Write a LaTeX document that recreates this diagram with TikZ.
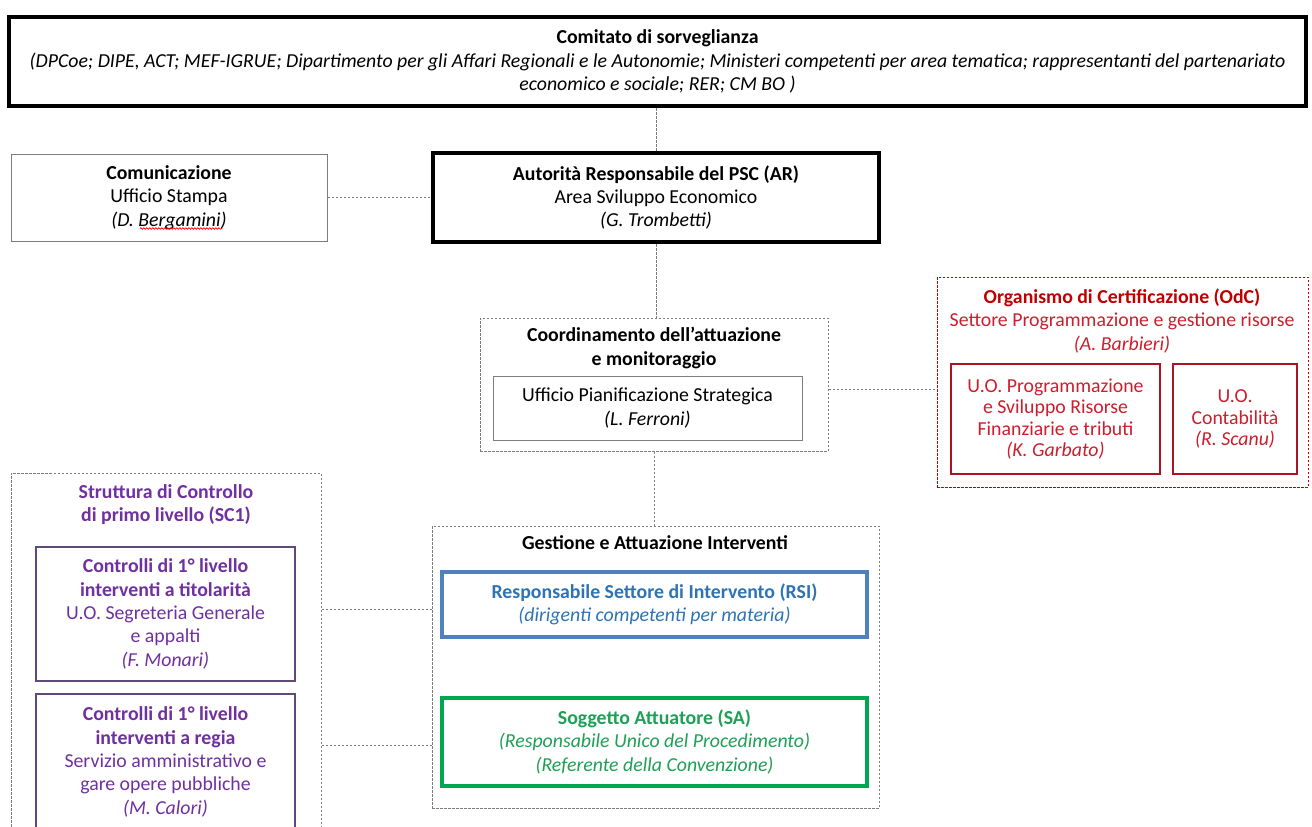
\documentclass[tikz,border=0pt]{standalone}
\usepackage{fontspec}
\setmainfont{Carlito}
\usetikzlibrary{calc,decorations.pathmorphing}
\definecolor{gline}{RGB}{125,125,125}
\definecolor{odcred}{RGB}{192,0,0}
\definecolor{odcline}{RGB}{170,20,35}
\definecolor{odctext}{RGB}{205,30,45}
\definecolor{purtext}{RGB}{112,48,160}
\definecolor{purline}{RGB}{96,73,122}
\definecolor{rsiline}{RGB}{79,129,189}
\definecolor{rsitext}{RGB}{46,116,181}
\definecolor{saline}{RGB}{0,166,80}
\definecolor{satext}{RGB}{30,160,85}
\tikzset{
  base/.style={inner sep=0pt, align=center, font=\fontsize{19.8}{23.3}\selectfont},
  thickbox/.style={base, draw=black, line width=4.5pt},
  plainbox/.style={base, draw=gline, line width=1pt},
  dashbox/.style={base, draw=gline, line width=1pt, dash pattern=on 2.5pt off 1.5pt},
  reddash/.style={base, draw=odcred, line width=1pt, dash pattern=on 2.5pt off 1.5pt},
  redbox/.style={base, draw=odcline, line width=1.3pt, text=odctext, font=\fontsize{19.8}{21.5}\selectfont},
  purbox/.style={base, draw=purline, line width=1.3pt, text=purtext},
  rsibox/.style={base, draw=rsiline, line width=4pt},
  sabox/.style={base, draw=saline, line width=4pt},
  title/.style={base},
  conn/.style={draw=gline, line width=1pt, dash pattern=on 2.5pt off 1.5pt},
  spell/.style={draw=red, line width=0.7pt, decorate, decoration={snake, segment length=3pt, amplitude=0.8pt}}
}
\begin{document}
\begin{tikzpicture}[x=1pt,y=-1pt]
\useasboundingbox (0,0) rectangle (1312,827);
\fill[white] (0,0) rectangle (1312,827);
\clip (0,0) rectangle (1312,827);

% top
\node[thickbox, minimum width=1297pt, minimum height=89pt] (comitato) at (657.5,61.5)
 {\textbf{Comitato di sorveglianza}\\
  \textit{(DPCoe; DIPE, ACT; MEF-IGRUE; Dipartimento per gli Affari Regionali e le Autonomie; Ministeri competenti per area tematica; rappresentanti del partenariato}\\
  \textit{economico e sociale; RER; CM BO )}};

\node[plainbox, minimum width=316pt, minimum height=87pt] (comun) at (169,197.5)
 {\textbf{Comunicazione}\\ Ufficio Stampa\\ \textit{(D. Bergamini)}};
\draw[spell] ($(comun.center)+(-29,31)$) -- ($(comun.center)+(53,31)$);

\node[thickbox, line width=4pt, minimum width=446pt, minimum height=89pt] (ar) at (656,197.5)
 {\textbf{Autorità Responsabile del PSC (AR)}\\ Area Sviluppo Economico\\ \textit{(G. Trombetti)}};

% coordinamento
\node[dashbox, minimum width=348pt, minimum height=133pt] (coord) at (654,384.5) {};
\node[title] (coordT) at (654,348) {\textbf{Coordinamento dell’attuazione}\\ \textbf{e monitoraggio}};
\node[plainbox, minimum width=309pt, minimum height=64pt] (ups) at (647.5,408)
 {Ufficio Pianificazione Strategica\\ \textit{(L. Ferroni)}};

% OdC
\node[reddash, minimum width=371pt, minimum height=210pt] (odc) at (1122.5,382) {};
\node[title, text=odcred] (odcT) at (1122,321)
 {\textbf{Organismo di Certificazione (OdC)}\\ \textcolor{odctext}{Settore Programmazione e gestione risorse}\\ \textcolor{odctext}{\textit{(A. Barbieri)}}};
\node[redbox, minimum width=209pt, minimum height=110pt] (uoprog) at (1055.5,419)
 {U.O. Programmazione\\ e Sviluppo Risorse\\ Finanziarie e tributi\\ \textit{(K. Garbato)}};
\node[redbox, minimum width=124pt, minimum height=110pt] (uocont) at (1235,419)
 {U.O.\\ Contabilità\\ \textit{(R. Scanu)}};

% Gestione
\node[dashbox, minimum width=447pt, minimum height=282pt] (gest) at (655.5,667) {};
\node[title] (gestT) at (655,543) {\textbf{Gestione e Attuazione Interventi}};
\node[rsibox, minimum width=425pt, minimum height=65pt, text=rsitext] (rsi) at (654.5,604.5)
 {\textbf{Responsabile Settore di Intervento (RSI)}\\ \textit{(dirigenti competenti per materia)}};
\node[sabox, minimum width=425pt, minimum height=88pt, text=satext] (sa) at (654.5,742)
 {\textbf{Soggetto Attuatore (SA)}\\ \textit{(Responsabile Unico del Procedimento)}\\ \textit{(Referente della Convenzione)}};

% SC1
\node[dashbox, minimum width=310pt, minimum height=377pt] (sc1) at (166,661.5) {};
\node[title, text=purtext] (sc1T) at (166,504.5) {\textbf{Struttura di Controllo}\\ \textbf{di primo livello (SC1)}};
\node[purbox, minimum width=259pt, minimum height=134pt] (ctit) at (165.5,614)
 {\textbf{Controlli di 1° livello}\\ \textbf{interventi a titolarità}\\ U.O. Segreteria Generale\\ e appalti\\ \textit{(F. Monari)}};
\node[purbox, minimum width=259pt, minimum height=136pt] (creg) at (165.5,762)
 {\textbf{Controlli di 1° livello}\\ \textbf{interventi a regia}\\ Servizio amministrativo e\\ gare opere pubbliche\\ \textit{(M. Calori)}};

% connectors
\draw[conn] (comitato.south -| ar.north) -- (ar.north);
\draw[conn] (comun.east) -- (comun.east -| ar.west);
\draw[conn] (ar.south) -- (ar.south |- coord.north);
\path (coord.east) ++(0,4.5) coordinate (j0);
\draw[conn] (j0) -- (j0 -| odc.west);
\draw[conn] (coord.south) -- (coord.south |- gest.north);
\path (rsi.west) ++(0,4.5) coordinate (j1);
\draw[conn] (sc1.east |- j1) -- (gest.west |- j1);
\path (sa.west) ++(0,3) coordinate (j2);
\draw[conn] (sc1.east |- j2) -- (gest.west |- j2);
\end{tikzpicture}
\end{document}
